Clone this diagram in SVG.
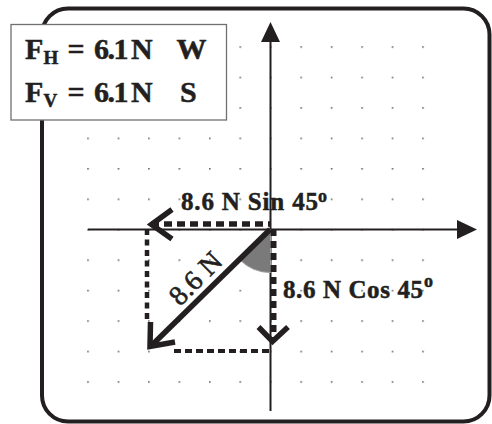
<svg xmlns="http://www.w3.org/2000/svg" width="492" height="424" viewBox="0 0 492 424">
<style>
.ink{stroke:#231f20;fill:none}
.t{font-family:"Liberation Serif","Times New Roman",serif;fill:#231f20}
.b{font-weight:bold;stroke:#231f20;stroke-width:0.5}
</style>
<defs>
<pattern id="dots" patternUnits="userSpaceOnUse" x="87.2" y="46.2" width="30.45" height="30.45">
<rect x="0" y="0" width="1.6" height="1.6" fill="#6a6a6a"/>
</pattern>
</defs>
<rect width="492" height="424" fill="#fff"/>
<g id="frame">
<rect x="42" y="8.5" width="447.5" height="413" rx="26" ry="26" class="ink" stroke-width="4"/>
</g>
<g id="grid">
<rect x="86" y="45" width="340" height="340" fill="url(#dots)"/>
</g>
<g id="axes">
<line x1="270.5" y1="40" x2="270.5" y2="411" class="ink" stroke-width="2"/>
<polygon points="270.5,22 261,42 280,42" fill="#231f20"/>
<line x1="88" y1="229.5" x2="459" y2="229.5" class="ink" stroke-width="2.2"/>
<polygon points="477,229.5 457,220 457,239" fill="#231f20"/>
</g>
<g id="angle">
<path d="M270.5,229.5 L240,260 A43,43 0 0 0 270.5,272.5 Z" fill="#7a7a7a" stroke="#a0a0a0" stroke-width="1"/>
</g>
<g id="connectors">
<line x1="151" y1="224" x2="270" y2="224" class="ink" stroke-width="5.5" stroke-dasharray="8 5"/>
<polyline points="172,209.5 151.5,224.5 172,239" class="ink" stroke-width="5.5"/>
<line x1="147" y1="229" x2="147" y2="322" class="ink" stroke-width="4.5" stroke-dasharray="6 4.5"/>
<line x1="174" y1="351" x2="273" y2="351" class="ink" stroke-width="4" stroke-dasharray="7 4"/>
<line x1="273.5" y1="229" x2="273.5" y2="340" class="ink" stroke-width="6" stroke-dasharray="7 5"/>
<polyline points="258.5,327 272.5,341.5 288,327" class="ink" stroke-width="5.5"/>
<line x1="270" y1="229.5" x2="151" y2="346" class="ink" stroke-width="5.5"/>
<polyline points="150.5,322 150,346.5 175,342" class="ink" stroke-width="5.5"/>
</g>
<g id="labels">
<text class="t b" x="181" y="209.5" font-size="25" textLength="137">8.6 N Sin 45</text>
<text class="t b" x="318" y="202" font-size="18">o</text>
<text class="t b" x="283" y="297.5" font-size="25" textLength="140">8.6 N Cos 45</text>
<text class="t b" x="424" y="287" font-size="18">o</text>
<text class="t" font-size="28" text-anchor="middle" stroke="#231f20" stroke-width="0.6" transform="translate(202,285) rotate(-45)">8.6 N</text>
</g>
<g id="result-box">
<rect x="11" y="24.5" width="215.5" height="95.5" fill="#fff" stroke="#707070" stroke-width="1.3"/>
<text class="t b" font-size="30" y="59"><tspan x="25">F</tspan><tspan x="43.5" y="64" font-size="19">H</tspan><tspan x="67.5" y="59">=</tspan><tspan x="94" letter-spacing="-1.5">6.1</tspan><tspan x="131">N</tspan><tspan x="176.5">W</tspan></text>
<text class="t b" font-size="30" y="102"><tspan x="25">F</tspan><tspan x="43.5" y="107" font-size="19">V</tspan><tspan x="67.5" y="102">=</tspan><tspan x="94" letter-spacing="-1.5">6.1</tspan><tspan x="131">N</tspan><tspan x="180">S</tspan></text>
</g>
</svg>
